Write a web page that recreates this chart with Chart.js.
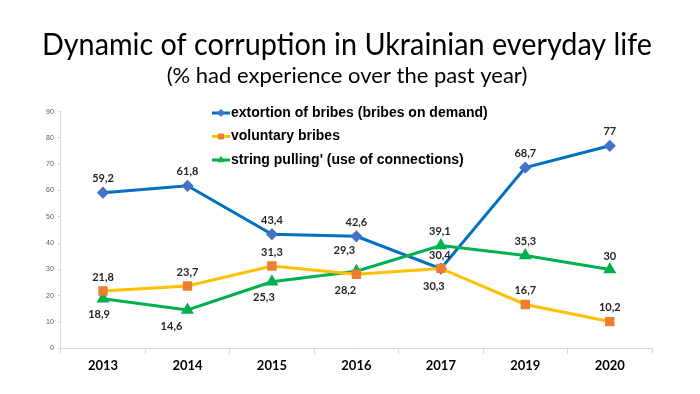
<!DOCTYPE html>
<html>
<head>
  <script src="https://cdn.jsdelivr.net/npm/chart.js"></script>
  <style>
    html, body { margin: 0; padding: 0; background: #fff; }
    .chart-container { position: relative; width: 700px; height: 394px; }
  </style>
</head>
<body>
  <div class="chart-container">
    <canvas id="myChart"></canvas>
  </div>
  <script type="text/javascript">
    // data
    var years = ['2013', '2014', '2015', '2016', '2017', '2019', '2020'];
    var extortion = [59.2, 61.8, 43.4, 42.6, 30.3, 68.7, 77];
    var voluntary = [21.8, 23.7, 31.3, 28.2, 30.4, 16.7, 10.2];
    var pulling = [18.9, 14.6, 25.3, 29.3, 39.1, 35.3, 30];
    var seriesNames = ['extortion of bribes (bribes on demand)', 'voluntary bribes', "string pulling' (use of connections)"];

    // label offsets [dx, dy] from each point
    var labelOffsets = [
      [[0, -14], [0, -14], [0, -14], [0, -14], [-7, 18], [0, -14], [0, -14]],
      [[0, -14], [0, -14], [0, -14], [-11, 16], [-1, -13], [0, -14], [0, -14]],
      [[-4, 16], [-16, 16], [-8, 16], [-12, -21], [-1, -14], [0, -14], [0, -13]]
    ];

    var valueLabels = {
      id: 'valueLabels',
      afterDatasetsDraw: function(chart) {
        var ctx = chart.ctx;
        ctx.save();
        ctx.font = 'bold 11px Lato';
        ctx.fillStyle = '#262626';
        ctx.textAlign = 'center';
        ctx.textBaseline = 'middle';
        chart.data.datasets.forEach(function(ds, i) {
          chart.getDatasetMeta(i).data.forEach(function(pt, j) {
            var off = labelOffsets[i][j];
            ctx.fillText(String(ds.data[j]).replace('.', ','), pt.x + off[0], pt.y + off[1]);
          });
        });
        ctx.restore();
      }
    };

    var sideLegend = {
      id: 'sideLegend',
      afterDraw: function(chart) {
        var ctx = chart.ctx;
        var x = 212, y = 113;
        ctx.save();
        chart.data.datasets.forEach(function(ds, i) {
          var yy = y + i * 23.5;
          ctx.strokeStyle = ds.borderColor;
          ctx.lineWidth = 3;
          ctx.beginPath();
          ctx.moveTo(x, yy);
          ctx.lineTo(x + 18, yy);
          ctx.stroke();
          ctx.fillStyle = ds.pointBackgroundColor;
          ctx.strokeStyle = ds.pointBorderColor;
          ctx.lineWidth = 1;
          Chart.helpers.drawPoint(ctx, {
            pointStyle: ds.pointStyle,
            radius: 3.5,
            borderWidth: 1,
            rotation: 0
          }, x + 9, yy);
          ctx.fillStyle = '#000';
          ctx.font = 'bold 14px "Liberation Sans"';
          ctx.textAlign = 'left';
          ctx.textBaseline = 'middle';
          ctx.fillText(seriesNames[i], x + 19, yy);
        });
        ctx.restore();
      }
    };

    var ctx = document.getElementById('myChart').getContext('2d');
    var chart = new Chart(ctx, {
      type: 'line',
      data: {
        labels: years,
        datasets: [{
            label: seriesNames[0],
            data: extortion,
            borderColor: '#0070C0',
            backgroundColor: '#4472C4',
            pointBackgroundColor: '#4472C4',
            pointBorderColor: '#4472C4',
            pointStyle: 'rectRot',
            pointRadius: 4,
            borderWidth: 3,
            lineTension: 0,
            fill: false,
            order: 3
          },
          {
            label: seriesNames[1],
            data: voluntary,
            borderColor: '#FFC000',
            backgroundColor: '#ED7D31',
            pointBackgroundColor: '#ED7D31',
            pointBorderColor: '#ED7D31',
            pointStyle: 'rect',
            pointRadius: 4.5,
            borderWidth: 3,
            lineTension: 0,
            fill: false,
            order: 1
          },
          {
            label: seriesNames[2],
            data: pulling,
            borderColor: '#00B050',
            backgroundColor: '#00B050',
            pointBackgroundColor: '#00B050',
            pointBorderColor: '#00B050',
            pointStyle: 'triangle',
            pointRadius: 4.5,
            borderWidth: 3,
            lineTension: 0,
            fill: false,
            order: 2
          }
        ]
      },
      options: {
        responsive: true,
        maintainAspectRatio: false,
        animation: false,
        layout: {
          padding: { left: 42, right: 48, bottom: 16, top: 0 }
        },
        plugins: {
          legend: { display: false },
          tooltip: { enabled: false },
          title: {
            display: true,
            text: 'Dynamic of corruption in Ukrainian everyday life',
            color: '#000',
            font: { family: 'Lato', size: 31, weight: 'normal', lineHeight: 1.2 },
            padding: { top: 26, bottom: 0 }
          },
          subtitle: {
            display: true,
            text: '(% had experience over the past year)',
            color: '#000',
            font: { family: 'Lato', size: 22, weight: 'normal', lineHeight: 1.2 },
            padding: { top: 0, bottom: 22 }
          }
        },
        scales: {
          x: {
            offset: true,
            grid: {
              offset: true,
              drawOnChartArea: false,
              color: '#d9d9d9',
              tickLength: 6
            },
            border: { color: '#d9d9d9' },
            ticks: {
              color: '#000',
              font: { family: 'Lato', size: 13, weight: 'bold' },
              padding: 4
            }
          },
          y: {
            min: 0,
            max: 90,
            grid: {
              drawOnChartArea: false,
              color: '#d9d9d9',
              tickLength: 3
            },
            border: { color: '#d9d9d9' },
            ticks: {
              stepSize: 10,
              color: '#595959',
              font: { family: '"Liberation Sans"', size: 7 },
              padding: 4
            }
          }
        }
      },
      plugins: [valueLabels, sideLegend]
    });
  </script>
</body>
</html>
